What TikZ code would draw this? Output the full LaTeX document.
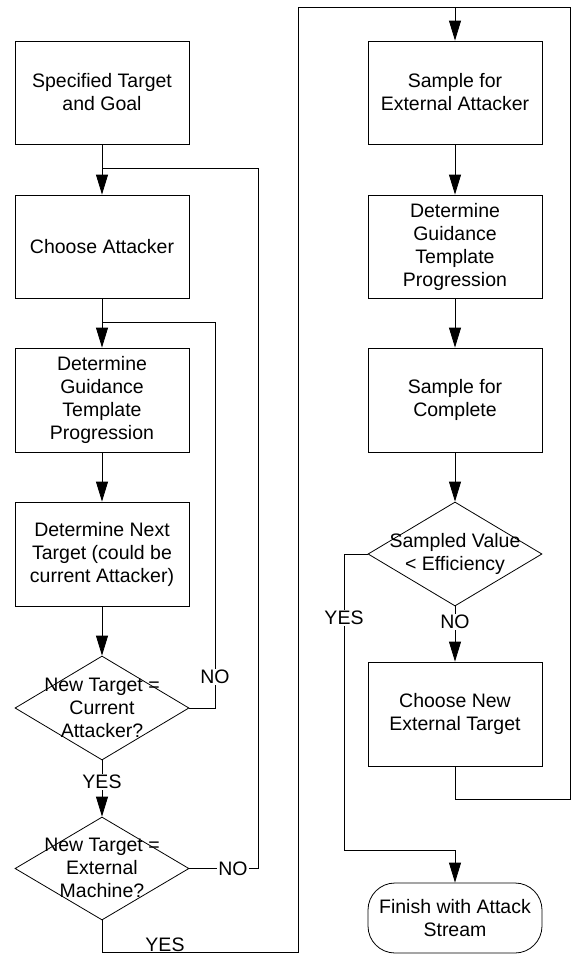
\documentclass[tikz,border=0pt]{standalone}
\usepackage{fontspec}
\setmainfont{Liberation Sans}
\usetikzlibrary{shapes.geometric,arrows.meta}
\tikzset{
 fnt/.style={font=\fontsize{19.5}{23}\selectfont},
 box/.style={draw, fnt, minimum width=174pt, minimum height=103pt, inner sep=0pt, align=center},
 dia/.style={draw, diamond, minimum width=174pt, minimum height=104pt, inner sep=0pt},
 txt/.style={fnt, align=center, inner sep=0pt},
 lbl/.style={fnt, fill=white, inner sep=1.5pt},
 arr/.style={-{Triangle[length=20pt,width=12pt]}},
 termbox/.style={draw, fnt, rounded corners=27pt, minimum width=174pt, minimum height=70pt, inner sep=0pt, align=center},
}
\begin{document}
\begin{tikzpicture}[x=1pt,y=-1pt, line width=0.8pt]
\useasboundingbox (0,0) rectangle (571,956);
% left column
\node[box] (b1) at (102,92.5) {Specified Target\\and Goal};
\node[box] (b2) at (102,246.5) {Choose Attacker};
\node[box, minimum height=104pt] (b3) at (102,400) {Determine\\Guidance\\Template\\Progression};
\node[box, minimum height=104pt] (b4) at (102,554) {Determine Next\\Target (could be\\current Attacker)};
\node[dia] (d1) at (102,708) {};
\node[txt] (d1t) at (102,708) {New Target =\\Current\\Attacker?};
\node[dia, minimum height=103pt] (d2) at (102,868.5) {};
\node[txt] (d2t) at (102,868) {New Target =\\External\\Machine?};
% right column
\node[box] (r1) at (455,92.5) {Sample for\\External Attacker};
\node[box] (r2) at (455,246.5) {Determine\\Guidance\\Template\\Progression};
\node[box, minimum height=104pt] (r3) at (455,400) {Sample for\\Complete};
\node[dia] (dr) at (455,554) {};
\node[txt] (drt) at (455,554) {Sampled Value\\{<} Efficiency};
\node[box, minimum height=104pt] (r4) at (455,714) {Choose New\\External Target};
\node[termbox] (t) at (455,918) {Finish with Attack\\Stream};
% coordinates
\coordinate (j1) at (102,168);
\coordinate (j2) at (102,322);
\coordinate (ltop) at (298,7);
\coordinate (rtop) at (570,7);
\coordinate (atop) at (455,7);
\coordinate (jy) at (344,850);
\coordinate (jt) at (455,850);
% left arrows
\draw[arr] (b1) -- (b2);
\draw[arr] (b2) -- (b3);
\draw[arr] (b3) -- (b4);
\draw[arr] (b4) -- (d1.north);
\draw[arr] (d1.south) -- (d2.north);
\node[lbl] (yes1) at (102,782) {YES};
% NO loop from d1
\draw (d1.east) -- (215,708) -- (215,322) -- (j2);
\node[lbl] (no1) at (215,677) {NO};
% NO loop from d2
\draw (d2.east) -- (258,868.5) -- (258,168) -- (j1);
\node[lbl] (no2) at (233,868.5) {NO};
% YES from d2 to right column
\draw (d2.south) -- (102,952) -- (298,952) -- (ltop) -- (rtop);
\node[lbl, inner sep=0.5pt] (yes2) at (165,944.5) {YES};
\draw[arr] (atop) -- (r1);
% right arrows
\draw[arr] (r1) -- (r2);
\draw[arr] (r2) -- (r3);
\draw[arr] (r3) -- (dr.north);
\draw[arr] (dr.south) -- (r4);
\node[lbl] (no3) at (455,622) {NO};
\draw (dr.west) -- (344,554) -- (jy) -- (jt);
\draw[arr] (jt) -- (t);
\node[lbl] (yes3) at (344,618) {YES};
\draw (r4.south) -- (455,799) -- (570,799) -- (rtop);
\end{tikzpicture}
\end{document}
